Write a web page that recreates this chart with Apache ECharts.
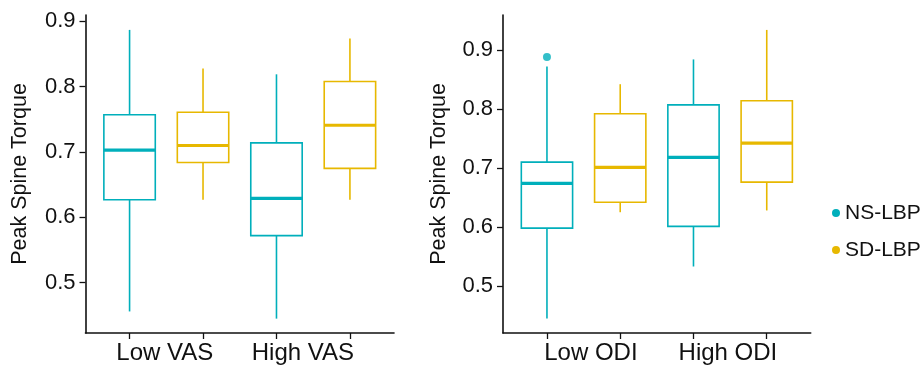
<!DOCTYPE html>
<html lang="en">

<head>
    <meta charset="UTF-8">
    <title>Peak Spine Torque</title>
    <script src="https://cdnjs.cloudflare.com/ajax/libs/echarts/6.0.0/echarts.min.js"></script>
    <style>
        html, body { margin: 0; padding: 0; background: #fff; }
        #echart { width: 920px; height: 368px; }
    </style>
</head>

<body>
    <div id="echart"></div>

    <script>
        // groups and box stats, each box = [min, Q1, median, Q3, max]
        const vasGroups = ['Low VAS', 'High VAS'];
        const odiGroups = ['Low ODI', 'High ODI'];
        const seriesNames = ['NS-LBP', 'SD-LBP'];

        const vasNS = [[0.456, 0.627, 0.703, 0.757, 0.887], [0.445, 0.572, 0.629, 0.714, 0.819]];
        const vasSD = [[0.627, 0.684, 0.710, 0.761, 0.828], [0.627, 0.675, 0.741, 0.808, 0.874]];
        const odiNS = [[0.445, 0.598, 0.674, 0.710, 0.872], [0.533, 0.601, 0.718, 0.807, 0.884]];
        const odiSD = [[0.625, 0.642, 0.701, 0.792, 0.842], [0.628, 0.676, 0.742, 0.814, 0.934]];
        // outliers: [group index, value]
        const odiNSOutliers = [[0, 0.888]];

        const yTicks = [0.5, 0.6, 0.7, 0.8, 0.9];

        const colors = ['#00AFBB', '#E7B800'];
        const FONT = '"Liberation Sans", Arial, sans-serif';
        const BOX_W = 0.7;

        // NS boxes sit at 1,3 and SD boxes at 2,4
        const withPos = (boxes, k) => boxes.map((b, g) => [2 * g + 1 + k].concat(b));

        function boxItem(color) {
            return function (params, api) {
                const x = api.value(0);
                const lo = api.coord([x, api.value(1)]);
                const q1 = api.coord([x, api.value(2)]);
                const md = api.coord([x, api.value(3)]);
                const q3 = api.coord([x, api.value(4)]);
                const hi = api.coord([x, api.value(5)]);
                const w = api.size([BOX_W, 0])[0];
                const cx = lo[0];
                const thin = { stroke: color, lineWidth: 1.6 };
                return {
                    type: 'group',
                    children: [
                        { type: 'line', shape: { x1: cx, y1: hi[1], x2: cx, y2: q3[1] }, style: thin },
                        { type: 'line', shape: { x1: cx, y1: q1[1], x2: cx, y2: lo[1] }, style: thin },
                        { type: 'rect', shape: { x: cx - w / 2, y: q3[1], width: w, height: q1[1] - q3[1] },
                          style: { fill: '#fff', stroke: color, lineWidth: 1.6 } },
                        { type: 'line', shape: { x1: cx - w / 2, y1: md[1], x2: cx + w / 2, y2: md[1] },
                          style: { stroke: color, lineWidth: 3.2 } }
                    ]
                };
            };
        }

        const axisLineStyle = { lineStyle: { color: '#111', width: 1.6 } };

        function xAxisFor(idx, groups, labelAt) {
            return {
                type: 'value', gridIndex: idx, min: 0.4, max: 4.6,
                axisLine: { show: true, ...axisLineStyle },
                axisTick: { show: true, length: 6, customValues: [1, 2, 3, 4], lineStyle: { color: '#111', width: 1.3 } },
                axisLabel: {
                    customValues: labelAt, margin: 8, color: '#111', fontSize: 24, fontFamily: FONT,
                    formatter: v => (v < 2.5 ? groups[0] : groups[1])
                },
                splitLine: { show: false }
            };
        }

        function yAxisFor(idx, min, max, gap) {
            return {
                type: 'value', gridIndex: idx, min: min, max: max,
                name: 'Peak Spine Torque', nameLocation: 'middle', nameGap: gap,
                nameTextStyle: { color: '#111', fontSize: 21.5, fontFamily: FONT },
                axisLine: { show: true, ...axisLineStyle },
                axisTick: { show: true, length: 6, customValues: yTicks, lineStyle: { color: '#111', width: 1.3 } },
                axisLabel: {
                    customValues: yTicks, margin: 10, color: '#111', fontSize: 22, fontFamily: FONT,
                    formatter: v => v.toFixed(1)
                },
                splitLine: { show: false }
            };
        }

        function boxSeries(name, data, color, idx) {
            return {
                type: 'custom', name: name, xAxisIndex: idx, yAxisIndex: idx,
                itemStyle: { color: color },
                encode: { x: 0, y: [1, 2, 3, 4, 5] },
                renderItem: boxItem(color),
                animation: false, silent: true,
                data: data
            };
        }

        const myChart = echarts.init(document.querySelector('#echart'));

        const option = {
            backgroundColor: '#fff',
            animation: false,
            grid: [
                { left: 85.5, top: 15, width: 308.5, height: 318, outerBoundsMode: 'none' },
                { left: 503, top: 15, width: 307.7, height: 318, outerBoundsMode: 'none' }
            ],
            xAxis: [
                xAxisFor(0, vasGroups, [1.48, 3.36]),
                xAxisFor(1, odiGroups, [1.6, 3.47])
            ],
            yAxis: [
                yAxisFor(0, 0.423, 0.9098, 54),
                yAxisFor(1, 0.4203, 0.9593, 52.5)
            ],
            legend: {
                data: seriesNames,
                orient: 'vertical', left: 827, top: 196,
                icon: 'circle', itemWidth: 8, itemHeight: 8, itemGap: 13,
                textStyle: { color: '#111', fontSize: 21, fontFamily: FONT, lineHeight: 24 }
            },
            series: [
                boxSeries(seriesNames[0], withPos(vasNS, 0), colors[0], 0),
                boxSeries(seriesNames[1], withPos(vasSD, 1), colors[1], 0),
                boxSeries(seriesNames[0], withPos(odiNS, 0), colors[0], 1),
                boxSeries(seriesNames[1], withPos(odiSD, 1), colors[1], 1),
                {
                    type: 'scatter', name: 'outlier', xAxisIndex: 1, yAxisIndex: 1,
                    symbol: 'circle', symbolSize: 8, silent: true,
                    itemStyle: { color: colors[0] },
                    data: odiNSOutliers.map(o => [2 * o[0] + 1, o[1]])
                }
            ]
        };
        myChart.setOption(option);
    </script>
</body>

</html>
